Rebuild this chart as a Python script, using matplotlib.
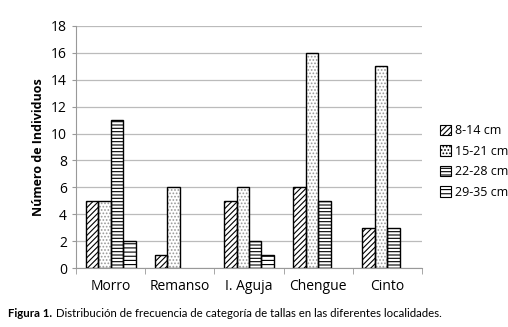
import matplotlib.pyplot as plt
import numpy as np

plt.rcParams['hatch.linewidth'] = 0.8

sites = ['Morro', 'Remanso', 'I. Aguja', 'Chengue', 'Cinto']
labels = ['8-14 cm', '15-21 cm', '22-28 cm', '29-35 cm']
c8_14 = [5, 1, 5, 6, 3]
c15_21 = [5, 6, 6, 16, 15]
c22_28 = [11, 0, 2, 5, 3]
c29_35 = [2, 0, 1, 0, 0]

series = [c8_14, c15_21, c22_28, c29_35]
hatches = ['//////', '.....', '-----', '----']
hatch_cols = ['black', '#999999', 'black', 'black']

fig = plt.figure(figsize=(5.08, 3.27), dpi=100)
ax = fig.add_axes([0.1496, 0.1804, 0.6811, 0.7401])

xs = np.arange(len(sites))
w = 0.18
handles = []
for i, vals in enumerate(series):
    vals = np.array(vals)
    keep = vals > 0
    pos = xs + (i - 1.5) * w
    # hatch layer, then black outline on top
    ax.bar(pos[keep], vals[keep], width=w, color='white', edgecolor=hatch_cols[i],
           hatch=hatches[i], linewidth=0, zorder=3)
    ax.bar(pos[keep], vals[keep], width=w, fill=False, edgecolor='black',
           linewidth=1.0, zorder=4)
    handles.append(plt.Rectangle((0, 0), 1, 1, facecolor='white', edgecolor='black',
                                 hatch=hatches[i], linewidth=0.8))

ax.set_xlim(-0.5, len(sites) - 0.5)
ax.set_ylim(0, 18)
ax.set_yticks(np.arange(0, 19, 2))
ax.set_xticks(xs)
ax.set_xticklabels(sites, fontsize=10, family='Open Sans')
ax.set_xticks(np.arange(-0.5, len(sites), 1), minor=True)
ax.tick_params(axis='x', which='major', length=0, pad=8)
ax.tick_params(axis='x', which='minor', length=4, color='#999999')
ax.tick_params(axis='y', length=3, color='#999999', labelsize=10)
for t in ax.get_yticklabels():
    t.set_family('Open Sans')
ax.grid(axis='y', color='#bbbbbb', linewidth=0.9, zorder=0)
for s in ['top', 'right']:
    ax.spines[s].set_visible(False)
ax.spines['left'].set_color('#999999')
ax.spines['bottom'].set_color('#999999')

ax.set_ylabel('Número de Individuos', fontsize=9, fontweight='bold', family='Open Sans', labelpad=4)

ax.legend(handles, labels, loc='center left', bbox_to_anchor=(1.02, 0.44), frameon=False,
          prop={'family': 'Open Sans', 'size': 9}, handlelength=0.9,
          handleheight=0.9, handletextpad=0.3, labelspacing=0.6)

fig.text(0.015, 0.03, 'Figura 1.', fontsize=8.2, fontweight='bold', family='Lato')
fig.text(0.11, 0.03, 'Distribución de frecuencia de categoría de tallas en las diferentes localidades.',
         fontsize=8.2, family='Lato')

fig.savefig('out.png', dpi=100)
